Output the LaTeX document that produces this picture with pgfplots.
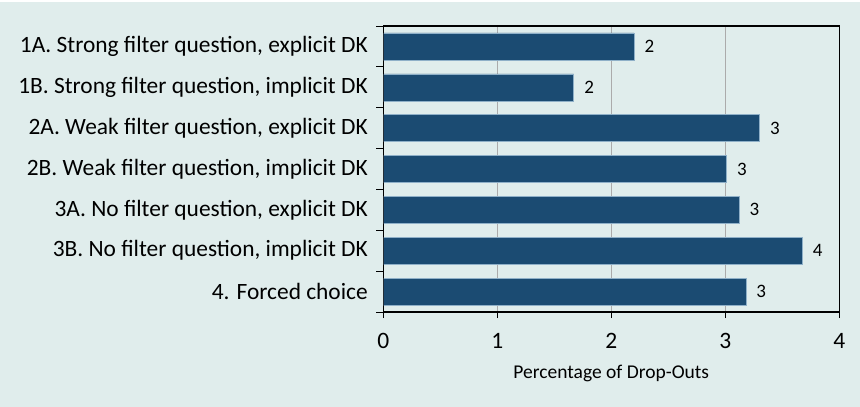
\documentclass[border=0pt]{standalone}
\usepackage{pgfplots}
\pgfplotsset{compat=1.18}
\usepackage{fontspec}
\setmainfont{Carlito}
\definecolor{bgpanel}{HTML}{E0EDEC}
\definecolor{barblue}{HTML}{1B4B72}
\definecolor{baredge}{HTML}{8FB0C8}
\definecolor{gridgray}{HTML}{ABABAB}

\begin{document}
\begin{tikzpicture}[x=1pt,y=1pt]
\fill[white] (0,0) rectangle (860,407);
\fill[bgpanel] (0,0) rectangle (860,405);
\useasboundingbox (0,0) rectangle (860,407);
\begin{axis}[
  at={(383.3pt,95pt)}, anchor=south west,
  scale only axis, width=456pt, height=286pt,
  /pgf/number format/assume math mode=true,
  xbar, bar width=27pt,
  xmin=0, xmax=4, ymin=-0.5, ymax=6.5, y dir=reverse,
  xtick={0,1,2,3,4},
  ytick={0,...,6},
  yticklabels={
    1A. Strong filter question{,} explicit DK,
    1B. Strong filter question{,} implicit DK,
    2A. Weak filter question{,} explicit DK,
    2B. Weak filter question{,} implicit DK,
    3A. No filter question{,} explicit DK,
    3B. No filter question{,} implicit DK,
    4. Forced choice},
  minor ytick={-0.5,0.5,...,6.5},
  major y tick style={draw=none},
  minor y tick style={black, line width=0.8pt},
  major x tick style={black, line width=0.8pt},
  tick align=outside,
  major tick length=6pt, minor tick length=7pt,
  xtick pos=bottom, ytick pos=left,
  xmajorgrids=true,
  major x grid style={gridgray, line width=0.8pt},
  axis line style={black, line width=1.2pt},
  xticklabel style={font=\fontsize{23.5}{24}\selectfont, yshift=-12pt},
  yticklabel style={font=\fontsize{23.4}{24}\selectfont, xshift=-6pt},
  xlabel={Percentage of Drop-Outs},
  xlabel style={font=\fontsize{19.5}{20}\selectfont, yshift=-9pt},
  nodes near coords={\pgfmathprintnumber[fixed,precision=0]{\pgfplotspointmeta}},
  point meta=x,
  nodes near coords style={font=\fontsize{19}{19}\selectfont, anchor=west, xshift=7pt, text=black},
]
\addplot[fill=barblue, draw=baredge, line width=0.5pt] coordinates {
  (2.20,0) (1.67,1) (3.30,2) (3.01,3) (3.12,4) (3.675,5) (3.18,6)
};
\draw[black, line width=1.6pt] (rel axis cs:0,1) -- (rel axis cs:0,0) -- (rel axis cs:1,0);
\end{axis}
\end{tikzpicture}
\end{document}
